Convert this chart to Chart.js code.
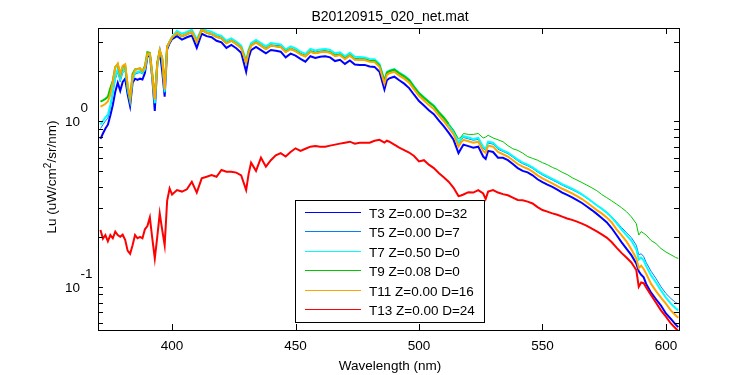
<!DOCTYPE html>
<html>
<head>
<meta charset="utf-8">
<title>B20120915_020_net.mat</title>
<script src="https://cdn.jsdelivr.net/npm/chart.js@4.4.1/dist/chart.umd.min.js"></script>
<style>
  html, body { margin: 0; padding: 0; background: #fff; }
  #wrap { width: 750px; height: 375px; }
</style>
</head>
<body>
<div id="wrap"><canvas id="myChart" width="750" height="375"></canvas></div>
<script>
// wavelength grid (nm), shared by all casts
const wavelength = [
  371, 372, 373, 374, 375, 376, 377, 378, 379, 380,
  381, 382, 383, 384, 385, 386, 387, 388, 389, 390,
  391, 392, 393, 394, 395, 396, 397, 398, 399, 400,
  402, 404, 406, 408, 410, 412, 414, 416, 418, 420,
  422, 424, 426, 428, 430, 431, 432, 434, 436, 438,
  440, 442, 444, 446, 448, 450, 452, 454, 456, 458,
  460, 462, 464, 466, 468, 470, 472, 474, 476, 478,
  480, 482, 484, 486, 487, 488, 490, 492, 494, 496,
  498, 500, 502, 504, 506, 508, 510, 512, 514, 516,
  517, 518, 520, 522, 524, 526, 527, 528, 530, 532,
  534, 536, 538, 540, 542, 544, 546, 548, 550, 552,
  554, 556, 558, 560, 562, 564, 566, 568, 570, 572,
  574, 576, 578, 580, 582, 584, 586, 588, 589, 590,
  591, 592, 594, 596, 598, 600, 602, 604, 605,
];

// Lu (uW/cm^2/sr/nm)
const lu_T3 = [
  0.78, 0.84, 0.90, 0.95, 1.08, 1.25, 1.50, 1.70, 1.52, 1.72,
  1.80, 1.45, 1.23, 1.70, 1.80, 1.77, 1.80, 1.78, 1.95, 2.44,
  2.50, 1.80, 1.15, 2.20, 2.62, 2.00, 1.40, 2.70, 2.95, 3.12,
  3.25, 3.10, 3.20, 3.28, 2.76, 3.36, 3.25, 3.20, 3.05, 2.98,
  2.76, 2.88, 2.75, 2.58, 1.98, 2.40, 2.68, 2.80, 2.68, 2.56,
  2.68, 2.65, 2.62, 2.42, 2.55, 2.48, 2.37, 2.28, 2.46, 2.40,
  2.44, 2.46, 2.42, 2.30, 2.34, 2.21, 2.32, 2.19, 2.18, 2.18,
  2.13, 2.12, 1.98, 1.55, 1.76, 1.81, 1.85, 1.76, 1.68, 1.58,
  1.44, 1.32, 1.24, 1.16, 1.10, 1.01, 0.93, 0.85, 0.77, 0.64,
  0.68, 0.72, 0.705, 0.69, 0.70, 0.61, 0.59, 0.66, 0.65, 0.60,
  0.60, 0.58, 0.55, 0.52, 0.50, 0.49, 0.47, 0.445, 0.428, 0.413,
  0.40, 0.385, 0.37, 0.358, 0.346, 0.333, 0.32, 0.305, 0.29, 0.275,
  0.26, 0.245, 0.226, 0.205, 0.186, 0.17, 0.155, 0.138, 0.124, 0.118,
  0.114, 0.104, 0.092, 0.084, 0.077, 0.069, 0.064, 0.059, 0.057,
];
const lu_T5 = [
  0.90, 0.95, 1.00, 1.04, 1.20, 1.45, 1.78, 1.98, 1.72, 1.95,
  2.02, 1.52, 1.30, 1.76, 1.92, 1.94, 1.96, 1.92, 2.02, 2.50,
  2.52, 1.86, 1.28, 2.16, 2.64, 2.30, 1.48, 2.76, 3.00, 3.18,
  3.42, 3.28, 3.38, 3.48, 3.04, 3.56, 3.45, 3.38, 3.26, 3.20,
  2.98, 3.08, 2.96, 2.78, 2.28, 2.64, 2.88, 3.02, 2.88, 2.76,
  2.88, 2.86, 2.84, 2.64, 2.76, 2.68, 2.56, 2.49, 2.66, 2.60,
  2.64, 2.66, 2.62, 2.50, 2.54, 2.40, 2.52, 2.38, 2.37, 2.37,
  2.32, 2.31, 2.16, 1.72, 1.94, 1.98, 2.02, 1.92, 1.84, 1.74,
  1.59, 1.46, 1.37, 1.29, 1.22, 1.11, 1.03, 0.94, 0.855, 0.725,
  0.765, 0.795, 0.78, 0.765, 0.775, 0.685, 0.665, 0.735, 0.725, 0.675,
  0.655, 0.635, 0.605, 0.575, 0.552, 0.537, 0.517, 0.492, 0.472, 0.456,
  0.44, 0.425, 0.41, 0.397, 0.385, 0.372, 0.358, 0.342, 0.326, 0.31,
  0.297, 0.282, 0.265, 0.246, 0.228, 0.212, 0.198, 0.178, 0.156, 0.158,
  0.152, 0.140, 0.124, 0.112, 0.100, 0.091, 0.085, 0.080, 0.079,
];
const lu_T7 = [
  0.95, 1.00, 1.05, 1.09, 1.25, 1.52, 1.85, 2.05, 1.80, 2.02,
  2.08, 1.55, 1.32, 1.78, 1.95, 1.98, 2.00, 1.95, 2.05, 2.50,
  2.52, 1.85, 1.28, 2.15, 2.66, 2.35, 1.50, 2.78, 3.02, 3.22,
  3.50, 3.36, 3.45, 3.56, 3.10, 3.62, 3.52, 3.46, 3.33, 3.26,
  3.05, 3.15, 3.02, 2.85, 2.32, 2.70, 2.95, 3.08, 2.95, 2.82,
  2.95, 2.92, 2.90, 2.70, 2.82, 2.74, 2.62, 2.54, 2.72, 2.66,
  2.70, 2.72, 2.68, 2.56, 2.60, 2.46, 2.58, 2.44, 2.43, 2.42,
  2.37, 2.36, 2.21, 1.76, 1.98, 2.02, 2.06, 1.96, 1.88, 1.78,
  1.62, 1.48, 1.39, 1.31, 1.24, 1.13, 1.05, 0.955, 0.87, 0.74,
  0.78, 0.81, 0.795, 0.78, 0.79, 0.70, 0.68, 0.75, 0.74, 0.69,
  0.665, 0.645, 0.615, 0.585, 0.56, 0.545, 0.525, 0.50, 0.48, 0.463,
  0.447, 0.432, 0.416, 0.403, 0.39, 0.376, 0.361, 0.344, 0.327, 0.31,
  0.296, 0.28, 0.262, 0.242, 0.222, 0.205, 0.19, 0.168, 0.146, 0.15,
  0.144, 0.133, 0.117, 0.106, 0.095, 0.086, 0.079, 0.074, 0.072,
];
const lu_T9 = [
  1.31, 1.33, 1.36, 1.40, 1.58, 1.75, 2.12, 2.20, 1.90, 2.12,
  2.18, 1.62, 1.36, 1.92, 2.05, 2.06, 2.08, 2.00, 2.15, 2.60,
  2.58, 1.92, 1.37, 2.25, 2.66, 2.40, 1.62, 2.82, 3.00, 3.18,
  3.38, 3.24, 3.33, 3.44, 3.00, 3.54, 3.40, 3.34, 3.22, 3.15,
  2.95, 3.05, 2.92, 2.76, 2.26, 2.62, 2.86, 2.98, 2.85, 2.72,
  2.85, 2.82, 2.80, 2.62, 2.72, 2.65, 2.53, 2.46, 2.62, 2.57,
  2.61, 2.63, 2.59, 2.48, 2.52, 2.38, 2.49, 2.36, 2.35, 2.35,
  2.30, 2.30, 2.16, 1.74, 1.96, 2.00, 2.04, 1.94, 1.86, 1.76,
  1.60, 1.47, 1.38, 1.30, 1.23, 1.13, 1.05, 0.96, 0.88, 0.78,
  0.80, 0.84, 0.83, 0.83, 0.84, 0.79, 0.80, 0.82, 0.79, 0.77,
  0.75, 0.71, 0.68, 0.665, 0.64, 0.61, 0.595, 0.58, 0.56, 0.545,
  0.525, 0.51, 0.49, 0.475, 0.455, 0.44, 0.425, 0.41, 0.395, 0.38,
  0.36, 0.345, 0.33, 0.315, 0.30, 0.284, 0.264, 0.24, 0.205, 0.215,
  0.21, 0.205, 0.19, 0.182, 0.17, 0.162, 0.156, 0.15, 0.148,
];
const lu_T11 = [
  1.22, 1.24, 1.27, 1.31, 1.45, 1.72, 2.10, 2.22, 1.92, 2.15,
  2.20, 1.65, 1.37, 1.85, 2.03, 2.05, 2.08, 2.00, 2.10, 2.55,
  2.56, 1.90, 1.35, 2.20, 2.68, 2.40, 1.55, 2.80, 3.01, 3.20,
  3.40, 3.25, 3.35, 3.45, 3.00, 3.55, 3.42, 3.35, 3.22, 3.15,
  2.94, 3.05, 2.92, 2.75, 2.25, 2.60, 2.85, 2.98, 2.85, 2.72,
  2.85, 2.82, 2.80, 2.60, 2.72, 2.64, 2.52, 2.45, 2.62, 2.56,
  2.60, 2.62, 2.58, 2.46, 2.50, 2.36, 2.48, 2.34, 2.33, 2.33,
  2.28, 2.27, 2.12, 1.68, 1.90, 1.94, 1.98, 1.88, 1.80, 1.70,
  1.55, 1.42, 1.33, 1.25, 1.18, 1.08, 1.00, 0.91, 0.83, 0.70,
  0.74, 0.77, 0.755, 0.74, 0.75, 0.66, 0.64, 0.71, 0.70, 0.65,
  0.63, 0.61, 0.58, 0.55, 0.53, 0.515, 0.495, 0.47, 0.45, 0.435,
  0.42, 0.405, 0.39, 0.378, 0.366, 0.352, 0.338, 0.322, 0.306, 0.29,
  0.277, 0.262, 0.245, 0.222, 0.205, 0.188, 0.168, 0.148, 0.130, 0.134,
  0.128, 0.12, 0.104, 0.094, 0.086, 0.079, 0.072, 0.067, 0.065,
];
const lu_T13 = [
  0.220, 0.195, 0.205, 0.188, 0.205, 0.196, 0.215, 0.205, 0.200, 0.206,
  0.192, 0.165, 0.158, 0.178, 0.205, 0.196, 0.200, 0.196, 0.222, 0.232,
  0.262, 0.195, 0.148, 0.200, 0.277, 0.220, 0.178, 0.330, 0.392, 0.360,
  0.383, 0.375, 0.387, 0.430, 0.370, 0.451, 0.461, 0.472, 0.461, 0.506,
  0.494, 0.494, 0.488, 0.470, 0.383, 0.48, 0.56, 0.50, 0.60, 0.53,
  0.58, 0.62, 0.64, 0.61, 0.65, 0.684, 0.66, 0.68, 0.70, 0.706,
  0.70, 0.70, 0.71, 0.72, 0.73, 0.74, 0.75, 0.73, 0.74, 0.74,
  0.74, 0.76, 0.77, 0.74, 0.76, 0.75, 0.72, 0.69, 0.668, 0.645,
  0.615, 0.57, 0.58, 0.545, 0.52, 0.485, 0.458, 0.43, 0.395, 0.352,
  0.355, 0.36, 0.372, 0.37, 0.383, 0.365, 0.338, 0.375, 0.383, 0.37,
  0.362, 0.356, 0.345, 0.334, 0.332, 0.326, 0.318, 0.302, 0.29, 0.284,
  0.277, 0.272, 0.265, 0.258, 0.253, 0.247, 0.24, 0.233, 0.224, 0.216,
  0.207, 0.198, 0.186, 0.172, 0.16, 0.15, 0.14, 0.126, 0.10, 0.106,
  0.105, 0.099, 0.089, 0.080, 0.072, 0.066, 0.060, 0.056, 0.054,
];

const seriesLabels = [
  "T3 Z=0.00 D=32",
  "T5 Z=0.00 D=7",
  "T7 Z=0.50 D=0",
  "T9 Z=0.08 D=0",
  "T11 Z=0.00 D=16",
  "T13 Z=0.00 D=24",
];
const seriesColors = ["#0000ff", "#0080ff", "#00ffff", "#00c800", "#ffa500", "#ff0000"];
const seriesWidths = [2, 1, 2, 2, 2, 2];
// past this wavelength the T9 cast shows as a single thin line
const thinAfter = [Infinity, Infinity, Infinity, 512, Infinity, Infinity];

// axis ticks
const xTicks = [400, 450, 500, 550, 600];
const yMajorTicks = [0.1, 1];
const yTickExponents = ["-1", "0"];
const yMinorTicks = [0.06, 0.07, 0.08, 0.09, 0.2, 0.3, 0.4, 0.5, 0.6, 0.7, 0.8, 0.9, 2, 3];

const FONT = '"Liberation Sans", Arial, Helvetica, sans-serif';
const seriesValues = [lu_T3, lu_T5, lu_T7, lu_T9, lu_T11, lu_T13];

// white figure background
const pluginBackground = {
  id: "background",
  beforeDraw(chart) {
    const ctx = chart.ctx;
    ctx.save();
    ctx.fillStyle = "#fff";
    ctx.fillRect(0, 0, chart.width, chart.height);
    ctx.restore();
  },
};

// matlab style box, inward ticks, labels and legend
const pluginAxes = {
  id: "matlabAxes",
  afterDatasetsDraw(chart) {
    const { ctx, chartArea: a, scales } = chart;
    const xs = scales.x;
    const ys = scales.y;
    const left = Math.round(a.left);
    const right = Math.round(a.right);
    const top = Math.round(a.top);
    const bottom = Math.round(a.bottom);

    ctx.save();
    ctx.strokeStyle = "#000";
    ctx.lineWidth = 1;
    ctx.strokeRect(left + 0.5, top + 0.5, right - left, bottom - top);

    ctx.beginPath();
    xTicks.forEach((v) => {
      const px = Math.round(xs.getPixelForValue(v)) + 0.5;
      ctx.moveTo(px, bottom);
      ctx.lineTo(px, bottom - 6);
      ctx.moveTo(px, top);
      ctx.lineTo(px, top + 6);
    });
    yMajorTicks.concat(yMinorTicks).forEach((v) => {
      const py = Math.round(ys.getPixelForValue(v)) + 0.5;
      ctx.moveTo(left, py);
      ctx.lineTo(left + 5, py);
      ctx.moveTo(right, py);
      ctx.lineTo(right - 5, py);
    });
    ctx.stroke();

    // tick labels
    ctx.fillStyle = "#000";
    ctx.font = "13.5px " + FONT;
    ctx.textBaseline = "alphabetic";
    ctx.textAlign = "center";
    xTicks.forEach((v) => {
      ctx.fillText(String(v), xs.getPixelForValue(v), bottom + 20);
    });
    yMajorTicks.forEach((v, i) => {
      const py = ys.getPixelForValue(v);
      ctx.textAlign = "right";
      ctx.fillText("10", 80, py + 5);
      ctx.textAlign = "left";
      ctx.fillText(yTickExponents[i], 80.5, py - 8.5);
    });

    // title and x label
    ctx.textAlign = "center";
    ctx.font = "14px " + FONT;
    ctx.fillText("B20120915_020_net.mat", 390, 21);
    ctx.font = "13.5px " + FONT;
    ctx.fillText("Wavelength (nm)", 390, 370);

    // y label, rotated, with superscript 2
    ctx.save();
    ctx.translate(55.5, 177);
    ctx.rotate(-Math.PI / 2);
    ctx.textAlign = "left";
    const partA = "Lu (uW/cm";
    const partB = "2";
    const partC = "/sr/nm)";
    ctx.font = "13.5px " + FONT;
    const wA = ctx.measureText(partA).width;
    const wC = ctx.measureText(partC).width;
    ctx.font = "10px " + FONT;
    const wB = ctx.measureText(partB).width;
    let tx = -(wA + wB + wC) / 2;
    ctx.font = "13.5px " + FONT;
    ctx.fillText(partA, tx, 0);
    tx += wA;
    ctx.font = "10px " + FONT;
    ctx.fillText(partB, tx, -5);
    tx += wB;
    ctx.font = "13.5px " + FONT;
    ctx.fillText(partC, tx, 0);
    ctx.restore();

    // legend box
    const lgLeft = 295, lgTop = 200, lgRight = 484, lgBottom = 322;
    ctx.fillStyle = "#fff";
    ctx.fillRect(lgLeft, lgTop, lgRight - lgLeft, lgBottom - lgTop);
    ctx.strokeStyle = "#000";
    ctx.strokeRect(lgLeft + 0.5, lgTop + 0.5, lgRight - lgLeft, lgBottom - lgTop);
    ctx.font = "13.5px " + FONT;
    ctx.textAlign = "left";
    seriesLabels.forEach((label, i) => {
      const ry = Math.round(lgTop + 11.5 + i * 19.5) + 0.5;
      ctx.strokeStyle = seriesColors[i];
      ctx.lineWidth = 1;
      ctx.beginPath();
      ctx.moveTo(305, ry);
      ctx.lineTo(361, ry);
      ctx.stroke();
      ctx.fillStyle = "#000";
      ctx.fillText(label, 369, ry + 5);
    });
    ctx.restore();
  },
};

const datasets = seriesValues.map((vals, i) => ({
  label: seriesLabels[i],
  data: vals.map((v, j) => ({ x: wavelength[j], y: v })),
  borderColor: seriesColors[i],
  backgroundColor: seriesColors[i],
  borderWidth: seriesWidths[i],
  segment: {
    borderWidth: (c) => (c.p0.parsed.x >= thinAfter[i] ? 1 : seriesWidths[i]),
  },
  pointRadius: 0,
  tension: 0,
  fill: false,
  clip: 0,
  // later casts drawn on top, like matlab's plot order
  order: seriesValues.length - i,
}));

const chartContext = document.getElementById("myChart").getContext("2d");
const chart = new Chart(chartContext, {
  type: "line",
  data: { datasets: datasets },
  options: {
    responsive: false,
    animation: false,
    devicePixelRatio: 1,
    events: [],
    layout: { padding: { left: 98, top: 28, right: 71, bottom: 45 } },
    plugins: {
      legend: { display: false },
      tooltip: { enabled: false },
    },
    scales: {
      x: { type: "linear", min: 370, max: 605.3, display: false },
      y: { type: "logarithmic", min: 0.0548, max: 3.64, display: false },
    },
  },
  plugins: [pluginBackground, pluginAxes],
});
</script>
</body>
</html>
